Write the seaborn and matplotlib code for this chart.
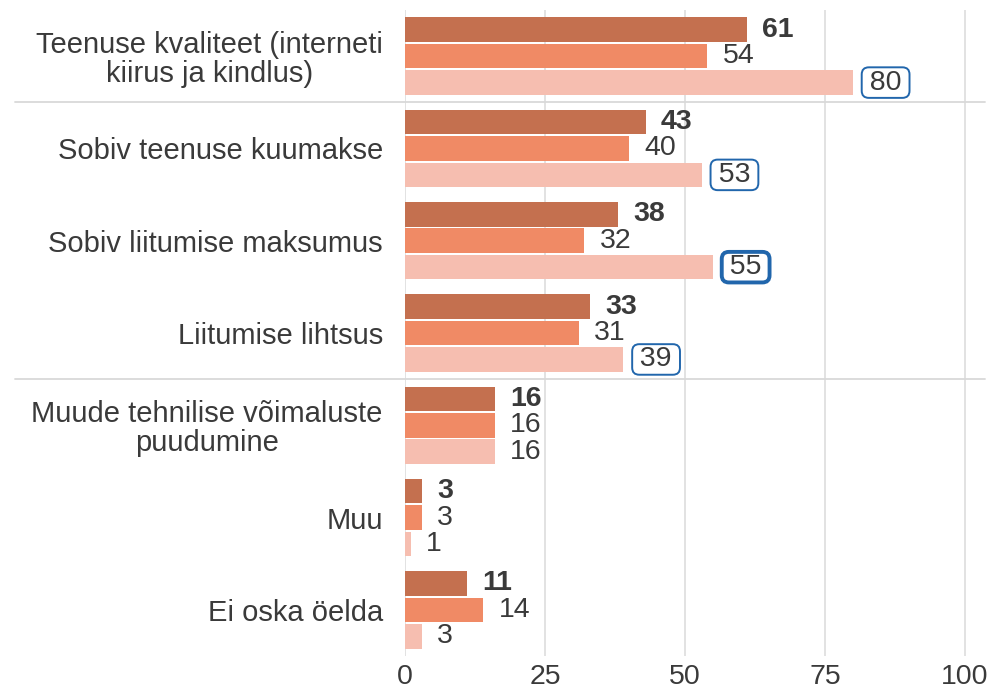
import matplotlib
matplotlib.use("Agg")
from matplotlib import pyplot as plt
import matplotlib.transforms as mtransforms
import pandas as pd
import seaborn as sns

categories = [
    "Teenuse kvaliteet (interneti\nkiirus ja kindlus)",
    "Sobiv teenuse kuumakse",
    "Sobiv liitumise maksumus",
    "Liitumise lihtsus",
    "Muude tehnilise võimaluste\npuudumine",
    "Muu",
    "Ei oska öelda",
]
series = ["Rühm 1", "Rühm 2", "Rühm 3"]
values_1 = [61, 43, 38, 33, 16, 3, 11]
values_2 = [54, 40, 32, 31, 16, 3, 14]
values_3 = [80, 53, 55, 39, 16, 1, 3]
boxed = [True, True, True, True, False, False, False]   # series 3 labels in a box
thick = [False, False, True, False, False, False, False]
separators_after = [0, 3]

colors = ["#C4704F", "#F08A65", "#F6BEB0"]
text_col = "#3A3A3A"
fs = 20.5

sns.set_style("white")
plt.rcParams["font.family"] = ["Liberation Sans", "DejaVu Sans"]

rows = []
for s, vals in zip(series, [values_1, values_2, values_3]):
    for c, v in zip(categories, vals):
        rows.append({"cat": c, "series": s, "value": v})
df = pd.DataFrame(rows)

fig = plt.figure(figsize=(9.91, 6.94), dpi=100)
ax = fig.add_axes([405 / 991, 38 / 694, 580 / 991, 646 / 694])

sns.barplot(data=df, x="value", y="cat", hue="series", orient="h",
            palette=colors, width=0.86, gap=0.07, legend=False, ax=ax,
            saturation=1, errorbar=None, linewidth=0)

ax.set_xlim(0, 103.6)
ax.set_ylim(6.5, -0.5)
ax.set_xticks([0, 25, 50, 75, 100])
ax.grid(axis="x", color="#DDDDDD", lw=1.2)
ax.set_axisbelow(True)
for sp in ax.spines.values():
    sp.set_visible(False)
ax.set_xlabel("")
ax.set_ylabel("")
ax.tick_params(axis="both", length=0, labelsize=fs, colors=text_col)
ax.tick_params(axis="y", pad=16, labelsize=21)
ax.tick_params(axis="x", pad=6)
for lbl in ax.get_yticklabels():
    lbl.set_multialignment("center")
    lbl.set_linespacing(1.05)

# value labels
for i, cont in enumerate(ax.containers):
    for j, bar in enumerate(cont):
        v = bar.get_width()
        y = bar.get_y() + bar.get_height() / 2
        txt = f"{v:.0f}"
        kw = dict(xytext=(11, 0), textcoords="offset points", va="center",
                  ha="left", fontsize=fs, color=text_col)
        if i == 0:
            kw["fontweight"] = "bold"
        if i == 2 and boxed[j]:
            txt = "\u2009" + txt + "\u2009"
            kw["xytext"] = (8, 0)
            kw["bbox"] = dict(boxstyle="round,pad=0.08,rounding_size=0.25",
                              fc="white", ec="#2166AC",
                              lw=2.8 if thick[j] else 1.4)
        ax.annotate(txt, xy=(v, y), **kw)

# group separators
trans = mtransforms.blended_transform_factory(fig.transFigure, ax.transData)
for k in separators_after:
    ax.plot([15 / 991, 985 / 991], [k + 0.5, k + 0.5], transform=trans,
            color="#D9D9D9", lw=1.3, clip_on=False)

plt.savefig("out.png", dpi=100)
